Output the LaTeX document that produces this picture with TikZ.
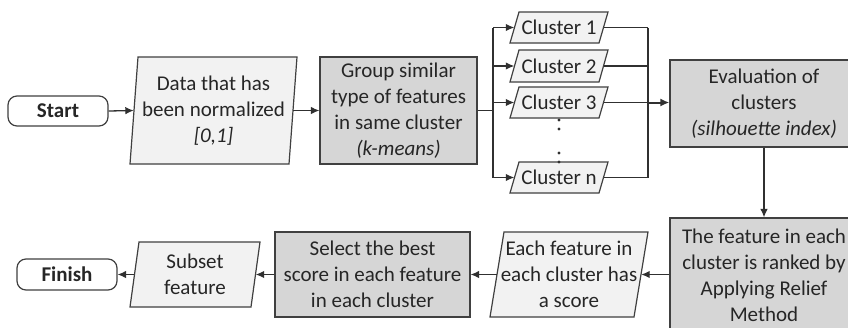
\documentclass[tikz,border=0pt]{standalone}
\usepackage{fontspec}
\setmainfont{Carlito}
\usetikzlibrary{arrows.meta}
\definecolor{bord}{HTML}{404040}
\definecolor{lfill}{HTML}{F2F2F2}
\definecolor{gfill}{HTML}{D6D6D6}
\definecolor{txt}{HTML}{262626}
\definecolor{linec}{HTML}{303030}
% name, x0, y0, x1, y1, slant, text
\newcommand{\pgram}[7]{%
  \path[pshape] ({#2+#6},#3) -- (#4,#3) -- ({#4-#6},#5) -- (#2,#5) -- cycle;
  \node[base, minimum width={#4-#2}, minimum height={#5-#3}] (#1) at ({(#2+#4)/2},{(#3+#5)/2}) {#7};%
}
\begin{document}
\begin{tikzpicture}[x=1pt,y=-1pt,
  base/.style={font=\fontsize{21}{26}\selectfont, text=txt, align=center, inner sep=0pt},
  gbox/.style={base, draw=bord, fill=gfill, line width=1.2pt},
  term/.style={base, draw=bord, fill=white, line width=1.2pt, rounded corners=9pt, font=\fontsize{21}{26}\selectfont\bfseries},
  pshape/.style={draw=bord, line width=1.2pt, fill=lfill},
  conn/.style={draw=linec, line width=1.3pt},
  arr/.style={conn, -{Latex[length=8.5pt,width=7.5pt]}},
]
\clip (0,0) rectangle (848,327);
\fill[white] (0,0) rectangle (848,327);

% top row
\node[term, minimum width=100, minimum height=30] (start) at (58,111) {Start};
\pgram{data}{130}{57}{297}{164}{8}{Data that has\\been normalized\\\textit{[0,1]}}
\node[gbox, minimum width=157, minimum height=107] (group) at (398.5,110.5) {Group similar\\type of features\\in same cluster\\\textit{(k-means)}};
\pgram{c1}{510}{12}{608}{43}{9}{Cluster 1}
\pgram{c2}{510}{50}{608}{82}{9}{Cluster 2}
\pgram{c3}{510}{87}{608}{118}{9}{Cluster 3}
\pgram{cn}{510}{162}{608}{193}{9}{Cluster n}
\node[gbox, minimum width=188, minimum height=87] (eval) at (764,103.5) {Evaluation of\\clusters\\\textit{(silhouette index)}};

% dots
\foreach \yy in {120,129,153,162} \fill[linec] (559,\yy) circle (1.7);

% bottom row
\node[gbox, minimum width=188, minimum height=114] (relief) at (764,275) {The feature in each\\cluster is ranked by\\Applying Relief\\Method};
\pgram{each}{490}{232}{648}{317}{14}{Each feature in\\each cluster has\\a score}
\node[gbox, minimum width=195, minimum height=85] (select) at (372.5,274.5) {Select the best\\score in each feature\\in each cluster};
\pgram{subset}{130}{242}{260}{307}{9}{Subset\\feature}
\node[term, minimum width=100, minimum height=31] (finish) at (67,274.5) {Finish};

% connectors
\draw[arr] (start.east) -- ([xshift=4pt]data.west);
\draw[arr] ([xshift=-4pt]data.east) -- (group.west);
\coordinate (bx) at (493,110.5);
\draw[conn] (group.east) -- (bx);
\draw[conn] (bx |- c1.west) -- (bx |- cn.west);
\foreach \c in {c1,c2,c3,cn} \draw[arr] (bx |- \c.west) -- ([xshift=4.5pt]\c.west);
\coordinate (cx) at (648,103);
\foreach \c in {c1,c2,c3,cn} \draw[conn] ([xshift=-4.5pt]\c.east) -- (cx |- \c.east);
\draw[conn] (cx |- c1.east) -- (cx |- cn.east);
\draw[conn, line width=2pt, -{Latex[length=9pt,width=8pt]}] (cx |- c3.east) -- (eval.west |- c3.east);
\draw[arr] (eval.south) -- (relief.north);
\draw[arr] (relief.west |- each.east) -- ([xshift=-7pt]each.east);
\draw[arr] ([xshift=7pt]each.west) -- (select.east |- each.west);
\draw[arr] (select.west) -- ([xshift=-4.5pt]subset.east);
\draw[arr] ([xshift=4.5pt]subset.west) -- (finish.east);
\end{tikzpicture}
\end{document}
